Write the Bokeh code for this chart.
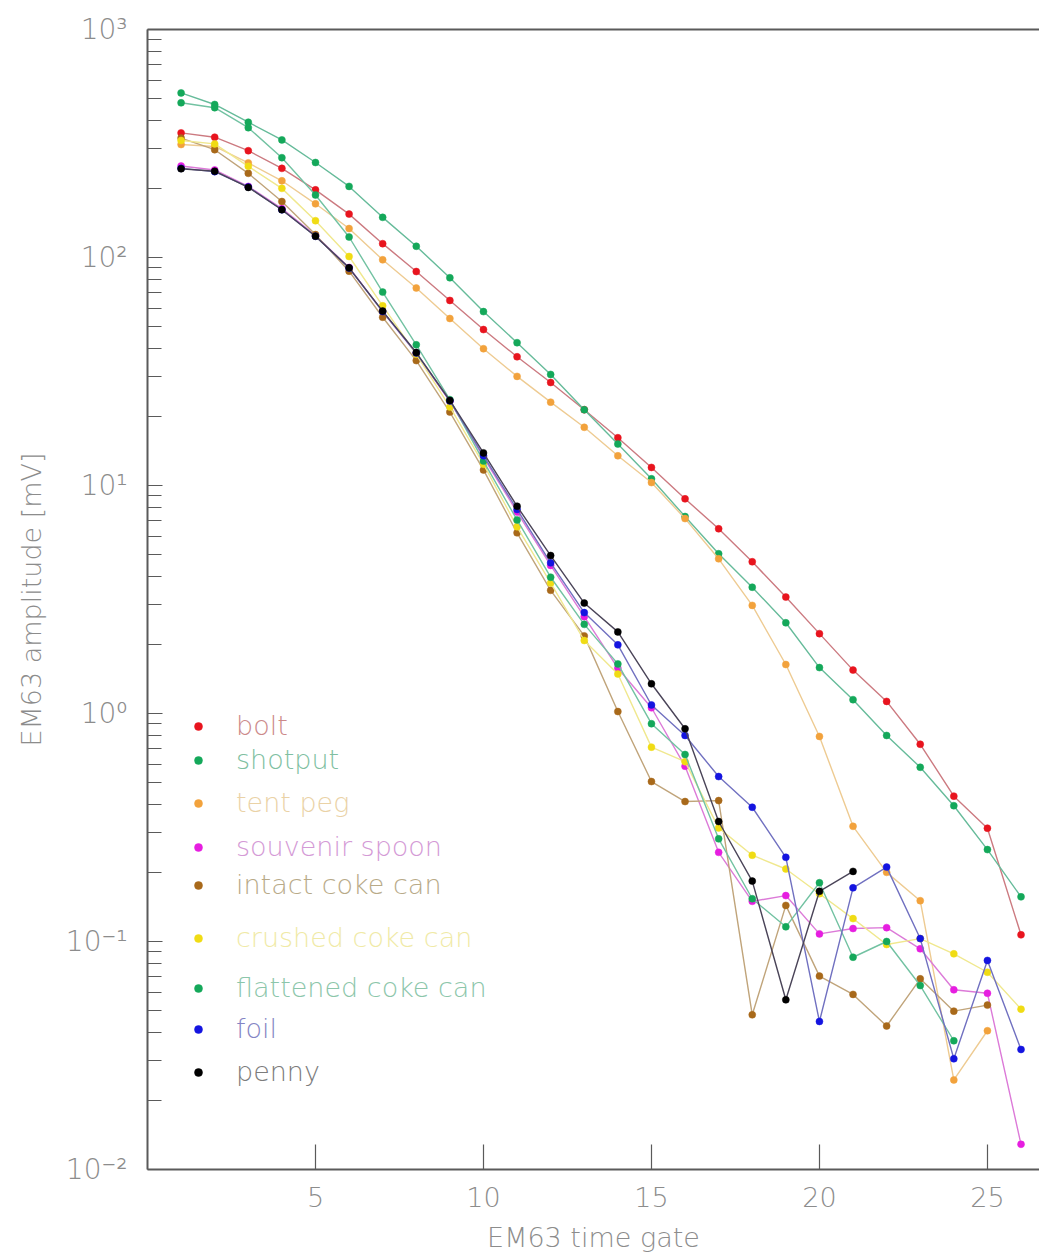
from bokeh.plotting import figure
from bokeh.models import Range1d, FixedTicker, Legend, LegendItem, LinearAxis
from bokeh.embed import file_html
from bokeh.resources import INLINE

# ---------------- data ----------------
gates = list(range(1, 27))

bolt = [352, 337, 294, 246, 198, 155, 115, 86.8, 64.8, 48.3, 36.7, 28.3, 21.5,
        16.2, 12.0, 8.74, 6.46, 4.63, 3.24, 2.24, 1.55, 1.13, 0.733, 0.434, 0.314, 0.107]
shotput = [527, 469, 392, 328, 261, 205, 150, 112, 81.5, 57.9, 42.3, 30.7, 21.5,
           15.2, 10.7, 7.31, 5.02, 3.58, 2.50, 1.59, 1.15, 0.801, 0.581, 0.394, 0.253, 0.157]
tent_peg = [313, 307, 260, 217, 172, 134, 97.7, 73.5, 54.0, 39.8, 30.1, 23.2, 18.0,
            13.5, 10.3, 7.16, 4.77, 2.98, 1.64, 0.793, 0.320, 0.201, 0.151, 0.0247, 0.0406]
souvenir_spoon = [252, 242, 205, 164, 125, 90.4, 57.9, 37.9, 23.4, 13.3, 7.65, 4.46, 2.66,
                  1.58, 1.06, 0.587, 0.246, 0.150, 0.159, 0.108, 0.114, 0.115, 0.0929,
                  0.0614, 0.0593, 0.0129]
intact_coke_can = [334, 297, 234, 176, 126, 87.1, 54.7, 35.3, 21.0, 11.7, 6.20, 3.47, 2.19,
                   1.02, 0.503, 0.411, 0.415, 0.0477, 0.144, 0.0705, 0.0586, 0.0426, 0.0686,
                   0.0495, 0.0526]
crushed_coke_can = [326, 315, 251, 201, 145, 101, 61.4, 37.6, 22.1, 12.4, 6.59, 3.74, 2.09,
                    1.49, 0.712, 0.615, 0.315, 0.239, 0.208, 0.162, 0.126, 0.0970, 0.103,
                    0.0883, 0.0733, 0.0505]
flattened_coke_can = [477, 454, 371, 274, 188, 123, 70.5, 41.4, 23.8, 12.8, 7.06, 3.96, 2.46,
                      1.65, 0.902, 0.661, 0.282, 0.154, 0.116, 0.181, 0.0853, 0.100, 0.0641,
                      0.0367]
foil = [246, 238, 204, 162, 124, 89.9, 57.9, 38.1, 23.5, 13.5, 7.85, 4.58, 2.77, 2.00, 1.09,
        0.801, 0.529, 0.388, 0.234, 0.0446, 0.172, 0.212, 0.103, 0.0306, 0.0826, 0.0336]
penny = [245, 239, 203, 162, 124, 90.1, 58.2, 38.3, 23.6, 13.9, 8.11, 4.93, 3.05, 2.28, 1.35,
         0.857, 0.336, 0.184, 0.0555, 0.166, 0.203]

names = ["bolt", "shotput", "tent peg", "souvenir spoon", "intact coke can",
         "crushed coke can", "flattened coke can", "foil", "penny"]
series = [bolt, shotput, tent_peg, souvenir_spoon, intact_coke_can,
          crushed_coke_can, flattened_coke_can, foil, penny]

x_ticks = [5, 10, 15, 20, 25]
y_ticks = [0.01, 0.1, 1, 10, 100, 1000]
y_tick_labels = ["10\u207b\u00b2", "10\u207b\u00b9", "10\u2070", "10\u00b9", "10\u00b2", "10\u00b3"]

# ---------------- styles ----------------
marker_colors = ["#e8141e", "#14a85a", "#f2a23c", "#e61ee0", "#a8691a",
                 "#f0dc14", "#14a85a", "#1414e0", "#000000"]
line_colors = ["#cc7a80", "#66bb9a", "#eecb92", "#dc7ad8", "#c0a47a",
               "#f0e88e", "#72c2a2", "#7070c0", "#4a4458"]
label_colors = ["#cc8a8a", "#80bfa2", "#ead2a6", "#d49ad6", "#b8aa88",
                "#f0eaa6", "#8cc6aa", "#8484c4", "#7c7c7c"]
legend_offsets = [428, 394, 351, 307, 269, 216, 166, 125, 82]

FONT = "DejaVu Sans Light, DejaVu Sans"
TXT = "#8c8c8c"
AX = "#5a5a5a"

p = figure(width=1039, height=1260, output_backend="svg", toolbar_location=None,
           x_range=Range1d(0, 26.55), y_range=Range1d(0.01, 1000), y_axis_type="log",
           min_border_left=147, min_border_right=0, min_border_top=29, min_border_bottom=91)
p.outline_line_color = None
p.xgrid.visible = False
p.ygrid.visible = False
p.background_fill_color = "white"
p.border_fill_color = "white"

# x axis
xa = p.xaxis[0]
xa.ticker = FixedTicker(ticks=x_ticks)
xa.axis_label = "EM63 time gate"
xa.axis_line_color = AX
xa.axis_line_width = 2
xa.major_tick_in = 25
xa.major_tick_out = 0
xa.major_tick_line_color = AX
xa.major_tick_line_width = 1.2
xa.minor_tick_line_color = None
xa.major_label_standoff = 17
xa.major_label_text_font_size = "27px"
xa.major_label_text_color = TXT
xa.major_label_text_font = FONT
xa.axis_label_standoff = 12
xa.axis_label_text_font_size = "27px"
xa.axis_label_text_color = TXT
xa.axis_label_text_font = FONT
xa.axis_label_text_font_style = "normal"

# y axis
ya = p.yaxis[0]
ya.ticker = FixedTicker(ticks=y_ticks,
                        minor_ticks=[m * t for t in y_ticks[:-1] for m in range(2, 10)])
ya.major_label_overrides = {t: s for t, s in zip(y_ticks, y_tick_labels)}
ya.axis_label = "EM63 amplitude [mV]"
ya.axis_line_color = AX
ya.axis_line_width = 2
ya.major_tick_in = 15
ya.major_tick_out = 0
ya.minor_tick_in = 14
ya.minor_tick_out = 0
ya.major_tick_line_color = AX
ya.minor_tick_line_color = AX
ya.major_tick_line_width = 1.2
ya.minor_tick_line_width = 1.2
ya.major_label_standoff = 20
ya.major_label_text_font_size = "28px"
ya.major_label_text_color = TXT
ya.major_label_text_font = FONT
ya.axis_label_standoff = 16
ya.axis_label_text_font_size = "27px"
ya.axis_label_text_color = TXT
ya.axis_label_text_font = FONT
ya.axis_label_text_font_style = "normal"

# top frame line
top = LinearAxis(ticker=FixedTicker(ticks=[]), axis_line_color=AX, axis_line_width=2,
                 major_tick_line_color=None, minor_tick_line_color=None,
                 major_label_text_font_size="0px", major_label_standoff=0)
p.add_layout(top, "above")

# series
dots = []
for vals, lc, mc in zip(series, line_colors, marker_colors):
    xs = gates[:len(vals)]
    p.line(xs, vals, line_color=lc, line_width=1.4)
    r = p.scatter(xs, vals, size=7, fill_color=mc, line_color=mc, line_width=0.5)
    dots.append(r)

# legend: one small legend per entry so that each label keeps its own colour
for name, r, tc, off in zip(names, dots, label_colors, legend_offsets):
    lg = Legend(items=[LegendItem(label=name, renderers=[r])], location=(41, off),
                padding=0, margin=0, spacing=0, border_line_color=None,
                background_fill_alpha=0, glyph_width=20, glyph_height=30,
                label_height=30, label_standoff=28, label_text_color=tc,
                label_text_font_size="27px", label_text_font=FONT)
    p.add_layout(lg)

open("out.html", "w").write(file_html(p, INLINE))
